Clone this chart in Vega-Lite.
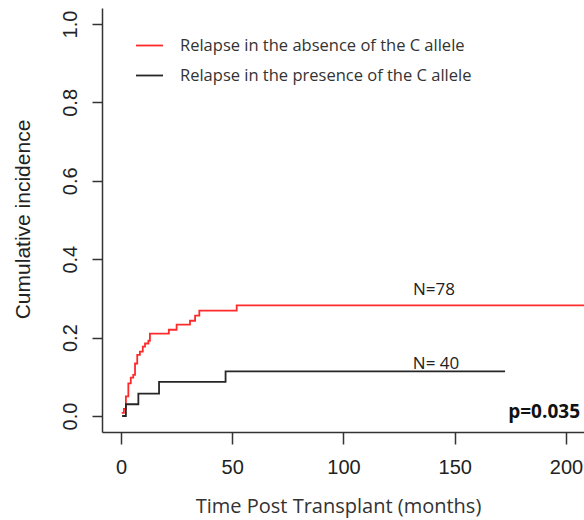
{
  "$schema": "https://vega.github.io/schema/vega-lite/v6.json",
  "width": 482,
  "height": 424,
  "autosize": {"type": "none"},
  "padding": {"left": 102, "top": 8, "right": 0, "bottom": 88},
  "background": "white",
  "config": {
    "view": {"stroke": null},
    "axis": {"grid": false}
  },
  "layer": [
    {
      "data": {"values": [
        {"group": "Relapse in the absence of the C allele", "t": 0.3, "ci": 0.008},
        {"group": "Relapse in the absence of the C allele", "t": 1.3, "ci": 0.018},
        {"group": "Relapse in the absence of the C allele", "t": 2.2, "ci": 0.05},
        {"group": "Relapse in the absence of the C allele", "t": 3.3, "ci": 0.083},
        {"group": "Relapse in the absence of the C allele", "t": 4.4, "ci": 0.098},
        {"group": "Relapse in the absence of the C allele", "t": 5.5, "ci": 0.105},
        {"group": "Relapse in the absence of the C allele", "t": 6.3, "ci": 0.134},
        {"group": "Relapse in the absence of the C allele", "t": 7.3, "ci": 0.156},
        {"group": "Relapse in the absence of the C allele", "t": 8.5, "ci": 0.164},
        {"group": "Relapse in the absence of the C allele", "t": 9.8, "ci": 0.177},
        {"group": "Relapse in the absence of the C allele", "t": 10.8, "ci": 0.185},
        {"group": "Relapse in the absence of the C allele", "t": 12.3, "ci": 0.192},
        {"group": "Relapse in the absence of the C allele", "t": 13.0, "ci": 0.21},
        {"group": "Relapse in the absence of the C allele", "t": 21.5, "ci": 0.22},
        {"group": "Relapse in the absence of the C allele", "t": 25.0, "ci": 0.233},
        {"group": "Relapse in the absence of the C allele", "t": 31.0, "ci": 0.243},
        {"group": "Relapse in the absence of the C allele", "t": 33.3, "ci": 0.256},
        {"group": "Relapse in the absence of the C allele", "t": 35.2, "ci": 0.269},
        {"group": "Relapse in the absence of the C allele", "t": 52.0, "ci": 0.282},
        {"group": "Relapse in the absence of the C allele", "t": 215.0, "ci": 0.282},
        {"group": "Relapse in the presence of the C allele", "t": 0.5, "ci": 0.0},
        {"group": "Relapse in the presence of the C allele", "t": 2.2, "ci": 0.03},
        {"group": "Relapse in the presence of the C allele", "t": 7.8, "ci": 0.057},
        {"group": "Relapse in the presence of the C allele", "t": 17.1, "ci": 0.087},
        {"group": "Relapse in the presence of the C allele", "t": 47.0, "ci": 0.114},
        {"group": "Relapse in the presence of the C allele", "t": 172.6, "ci": 0.114}
      ]},
      "mark": {"type": "line", "interpolate": "step-after", "strokeWidth": 1.8, "clip": true},
      "encoding": {
        "x": {
          "field": "t", "type": "quantitative",
          "scale": {"domain": [-8.54, 208.1], "nice": false, "zero": false},
          "axis": {
            "values": [0, 50, 100, 150, 200],
            "title": "Time Post Transplant (months)",
            "domainColor": "#333333", "domainWidth": 1.5,
            "tickColor": "#333333", "tickWidth": 1.5, "tickSize": 12,
            "labelFont": "Liberation Sans", "labelFontSize": 20, "labelColor": "#222222",
            "labelPadding": 13, "labelFlush": false,
            "titleFont": "Open Sans", "titleFontSize": 20, "titleFontWeight": "normal", "titleColor": "#333333",
            "titleX": 236, "titleY": 80, "titleBaseline": "alphabetic", "titleAlign": "center"
          }
        },
        "y": {
          "field": "ci", "type": "quantitative",
          "scale": {"domain": [-0.0408, 1.0408], "nice": false, "zero": false},
          "axis": {
            "values": [0, 0.2, 0.4, 0.6, 0.8, 1.0],
            "format": ".1f",
            "title": "Cumulative incidence",
            "domainColor": "#333333", "domainWidth": 1.5,
            "tickColor": "#333333", "tickWidth": 1.5, "tickSize": 10,
            "labelFont": "Liberation Sans", "labelFontSize": 20, "labelColor": "#222222",
            "labelAngle": -90, "labelAlign": "center", "labelBaseline": "alphabetic",
            "labelPadding": 16, "labelFlush": false,
            "titleFont": "Liberation Sans", "titleFontSize": 21, "titleFontWeight": "normal", "titleColor": "#222222",
            "titleAngle": -90, "titleX": -73, "titleY": 211, "titleBaseline": "alphabetic", "titleAlign": "center"
          }
        },
        "color": {
          "field": "group", "type": "nominal",
          "scale": {
            "domain": ["Relapse in the absence of the C allele", "Relapse in the presence of the C allele"],
            "range": ["#ff2a2a", "#262626"]
          },
          "legend": {
            "title": null,
            "orient": "none",
            "legendX": 33,
            "legendY": 23,
            "padding": 0,
            "symbolType": "stroke",
            "symbolSize": 729,
            "symbolStrokeWidth": 1.8,
            "labelFont": "Open Sans",
            "labelFontSize": 16.5,
            "labelColor": "#333333",
            "labelOffset": 16,
            "labelLimit": 400,
            "rowPadding": 7
          }
        }
      }
    },
    {
      "data": {"values": [
        {"t": 140.7, "ci": 0.309, "label": "N=78"},
        {"t": 141.6, "ci": 0.12, "label": "N= 40"}
      ]},
      "mark": {"type": "text", "font": "Open Sans", "fontSize": 17, "color": "#222222", "align": "center", "baseline": "alphabetic"},
      "encoding": {
        "x": {"field": "t", "type": "quantitative"},
        "y": {"field": "ci", "type": "quantitative"},
        "text": {"field": "label"}
      }
    },
    {
      "data": {"values": [
        {"t": 206.3, "ci": -0.005, "label": "p=0.035"}
      ]},
      "mark": {"type": "text", "font": "Open Sans", "fontSize": 19, "fontWeight": "bold", "color": "#111111", "align": "right", "baseline": "alphabetic"},
      "encoding": {
        "x": {"field": "t", "type": "quantitative"},
        "y": {"field": "ci", "type": "quantitative"},
        "text": {"field": "label"}
      }
    }
  ]
}
